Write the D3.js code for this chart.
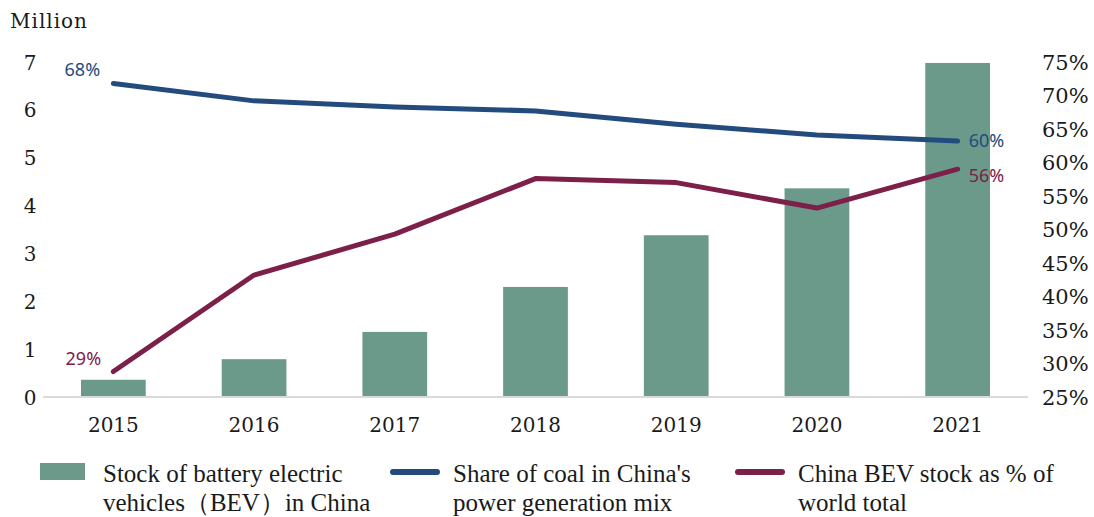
<!DOCTYPE html>
<html>
<head>
<meta charset="utf-8">
<script src="https://cdn.jsdelivr.net/npm/d3@7"></script>
<style>
  html, body { margin: 0; padding: 0; background: #fff; }
  svg { display: block; }
</style>
</head>
<body>
<svg id="chart" width="1094" height="517"></svg>
<script>
// ---- Data ----
const years = ["2015", "2016", "2017", "2018", "2019", "2020", "2021"];
const bevStock = [0.36, 0.79, 1.36, 2.30, 3.38, 4.36, 6.98];          // million
const coalShare = [71.8, 69.2, 68.3, 67.7, 65.7, 64.1, 63.2];        // %
const bevWorldShare = [28.8, 43.2, 49.3, 57.6, 57.0, 53.2, 59.0];     // %
const leftTicks = [0, 1, 2, 3, 4, 5, 6, 7];
const rightTicks = [25, 30, 35, 40, 45, 50, 55, 60, 65, 70, 75];
const coalLabels = { first: "68%", last: "60%" };
const worldLabels = { first: "29%", last: "56%" };
const legendItems = [
  { type: "bar", lines: ["Stock of battery electric", "vehicles\uFF08BEV\uFF09in China"] },
  { type: "coal", lines: ["Share of coal in China's", "power generation mix"] },
  { type: "world", lines: ["China BEV stock as % of", "world total"] }
];

// ---- Styles ----
const C = { bar: "#6b9a8b", coal: "#234b7e", world: "#7d2049", axis: "#d9d9d9", text: "#1a1a1a" };
const serif = "'DejaVu Serif', serif";
const sans = "'Noto Sans', 'Open Sans', sans-serif";

const svg = d3.select("#chart");
const m = { left: 43, right: 1028, top: 62, bottom: 397 };

const x = d3.scaleBand().domain(years).range([m.left, m.right]).paddingInner(0.54).paddingOuter(0.27);
const yL = d3.scaleLinear().domain([0, 7]).range([m.bottom, m.top]);
const yR = d3.scaleLinear().domain([25, 75]).range([m.bottom, m.top]);
const cx = d => x(d) + x.bandwidth() / 2;

// Bars
svg.append("g").selectAll("rect").data(years).join("rect")
  .attr("x", d => x(d))
  .attr("width", x.bandwidth())
  .attr("y", (d, i) => yL(bevStock[i]))
  .attr("height", (d, i) => yL(0) - yL(bevStock[i]))
  .attr("fill", C.bar);

// Baseline
svg.append("line").attr("x1", m.left).attr("x2", m.right)
  .attr("y1", yL(0)).attr("y2", yL(0))
  .attr("stroke", C.axis).attr("stroke-width", 2);

// Left axis
const leftAxis = d3.axisLeft(yL).tickValues(leftTicks).tickSize(0).tickPadding(0).tickFormat(d3.format("d"));
const gL = svg.append("g").attr("transform", "translate(30,0)").call(leftAxis);
gL.select(".domain").remove();
gL.selectAll("text").attr("font-family", serif).attr("font-size", 20).attr("fill", C.text)
  .attr("text-anchor", "middle").attr("dy", "0.35em");

// Right axis
const rightAxis = d3.axisRight(yR).tickValues(rightTicks).tickSize(0).tickPadding(0).tickFormat(d => d + "%");
const gR = svg.append("g").attr("transform", "translate(1042,0)").call(rightAxis);
gR.select(".domain").remove();
gR.selectAll("text").attr("font-family", serif).attr("font-size", 21).attr("fill", C.text).attr("dy", "0.35em");

// X axis
const xAxis = d3.axisBottom(x).tickSize(0).tickPadding(0);
const gX = svg.append("g").attr("transform", `translate(0,${m.bottom + 28})`).call(xAxis);
gX.select(".domain").remove();
gX.selectAll("text").attr("font-family", serif).attr("font-size", 20).attr("fill", C.text).attr("dy", "0.35em");

// Unit label
svg.append("text").attr("x", 10).attr("y", 28).text("Million")
  .attr("font-family", serif).attr("font-size", 20).attr("letter-spacing", 1).attr("fill", C.text);

// Lines
const line = arr => d3.line().x((d, i) => cx(years[i])).y(d => yR(d))(arr);
svg.append("path").attr("d", line(coalShare)).attr("fill", "none")
  .attr("stroke", C.coal).attr("stroke-width", 5).attr("stroke-linecap", "round").attr("stroke-linejoin", "round");
svg.append("path").attr("d", line(bevWorldShare)).attr("fill", "none")
  .attr("stroke", C.world).attr("stroke-width", 5).attr("stroke-linecap", "round").attr("stroke-linejoin", "round");

// Data labels
const n = years.length - 1;
function dataLabel(text, color, xPos, yPos, anchor) {
  svg.append("text").attr("x", xPos).attr("y", yPos).text(text)
    .attr("font-family", sans).attr("font-size", 18).attr("fill", color)
    .attr("text-anchor", anchor).attr("dy", "0.35em");
}
dataLabel(coalLabels.first, C.coal, cx(years[0]) - 31, yR(coalShare[0]) - 14, "middle");
dataLabel(coalLabels.last, C.coal, cx(years[n]) + 11, yR(coalShare[n]), "start");
dataLabel(worldLabels.first, C.world, cx(years[0]) - 30, yR(bevWorldShare[0]) - 13, "middle");
dataLabel(worldLabels.last, C.world, cx(years[n]) + 11, yR(bevWorldShare[n]) + 6, "start");

// Legend
const legendX = [40, 390, 735];
const legend = svg.append("g");
legendItems.forEach((item, i) => {
  const g = legend.append("g").attr("transform", `translate(${legendX[i]},0)`);
  if (item.type === "bar") {
    g.append("rect").attr("x", 0).attr("y", 463).attr("width", 45).attr("height", 17).attr("fill", C.bar);
  } else {
    g.append("line").attr("x1", 3).attr("x2", 47).attr("y1", 472).attr("y2", 472)
      .attr("stroke", item.type === "coal" ? C.coal : C.world)
      .attr("stroke-width", 6).attr("stroke-linecap", "round");
  }
  const t = g.append("text").attr("font-family", "'Liberation Serif', serif").attr("font-size", 25).attr("fill", C.text);
  item.lines.forEach((l, j) => {
    t.append("tspan").attr("x", 63).attr("y", 482 + j * 29).text(l);
  });
});
</script>
</body>
</html>
